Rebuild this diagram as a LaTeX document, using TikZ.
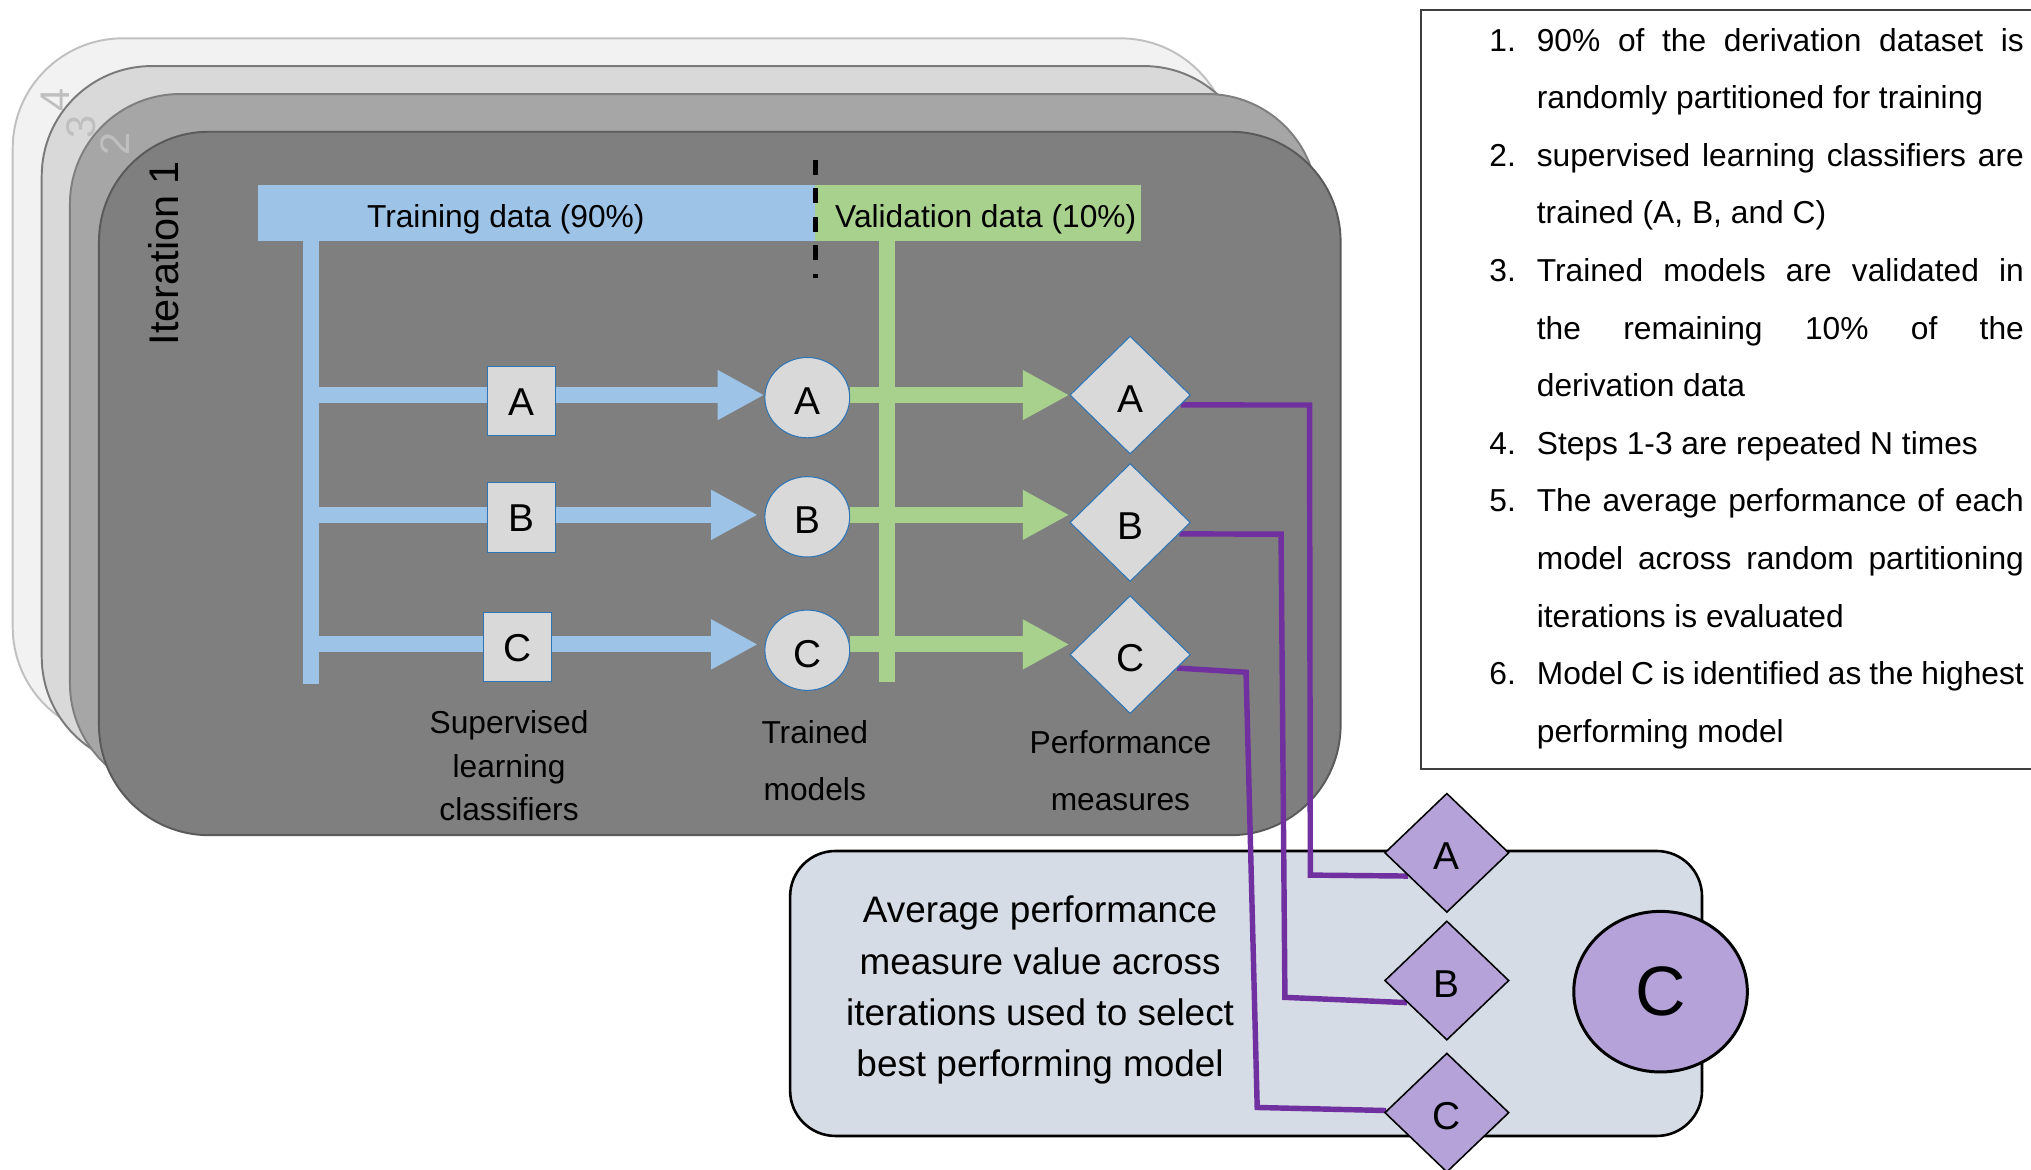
\documentclass[tikz,border=0pt]{standalone}
\usepackage{fontspec}
\setmainfont{Liberation Sans}
\usetikzlibrary{shapes.geometric,arrows.meta}
\pgfdeclarelayer{bg}
\pgfdeclarelayer{lines}
\pgfsetlayers{bg,lines,main}

\definecolor{stackD}{HTML}{F2F2F2}
\definecolor{stackDedge}{HTML}{C0C0C0}
\definecolor{stackC}{HTML}{D9D9D9}
\definecolor{stackCedge}{HTML}{7A7A7A}
\definecolor{stackB}{HTML}{A6A6A6}
\definecolor{stackBedge}{HTML}{7F7F7F}
\definecolor{stackA}{HTML}{7F7F7F}
\definecolor{stackAedge}{HTML}{5A5A5A}
\definecolor{digitgray}{HTML}{BFBFBF}
\definecolor{trainblue}{HTML}{9DC3E6}
\definecolor{validgreen}{HTML}{A9D18E}
\definecolor{shapegray}{HTML}{D9D9D9}
\definecolor{edgeblue}{HTML}{2E75B6}
\definecolor{lilac}{HTML}{B4A2D9}
\definecolor{linkpurple}{HTML}{7030A0}
\definecolor{avgfill}{HTML}{D6DCE5}
\definecolor{boxedge}{HTML}{3F3F3F}

\newcommand{\fsz}[2]{\fontsize{#1}{#2}\selectfont}

\begin{document}
\begin{tikzpicture}[x=0.5pt, y=-0.5pt,
  stack/.style={rounded corners=42.5pt, line width=0.75pt},
  digit/.style={rotate=90, text=digitgray, font=\fsz{16pt}{19pt}, inner sep=0pt},
  databar/.style={inner sep=0pt, draw=none, minimum height=21.5pt},
  feed/.style={line width=6.25pt},
  flow/.style={line width=6.25pt, -{Triangle[length=18pt,width=18pt]}},
  letter/.style={inner sep=0pt, font=\fsz{15pt}{18pt}, text height=13.2pt, text depth=0pt},
  model/.style={letter, fill=shapegray, draw=edgeblue, line width=0.4pt},
  clsbox/.style={model, rectangle, minimum width=26.25pt, minimum height=26.75pt, text height=10.8pt},
  trained/.style={model, ellipse, minimum width=32.75pt, minimum height=31pt},
  measure/.style={model, diamond, minimum width=46.5pt, minimum height=45.5pt},
  pick/.style={letter, diamond, fill=lilac, draw=black, line width=0.6pt,
    minimum width=48pt, minimum height=46pt},
  link/.style={draw=linkpurple, line width=2.1pt},
  colcap/.style={anchor=base, inner sep=0pt},
  divider/.style={black, line width=1.75pt, dash pattern=on 5.75pt off 5.2pt},
  avgbox/.style={fill=avgfill, draw=black, line width=1pt, rounded corners=17.5pt,
    minimum width=352pt, minimum height=110pt, inner sep=0pt},
]
\useasboundingbox (0,0) rectangle (1568,903);

% stacked iteration panels, back to front
\begin{pgfonlayer}{bg}
  \draw[stack, fill=stackD, draw=stackDedge] (9.8,29.6) rectangle (950,569);
  \node[digit] (it4) at (43,77) {4};
  \draw[stack, fill=stackC, draw=stackCedge] (32.2,51) rectangle (968,592);
  \node[digit] (it3) at (63,98.4) {3};
  \draw[stack, fill=stackB, draw=stackBedge] (54,72.6) rectangle (1017,612.6);
  \node[digit] (it2) at (89,111.5) {2};
  \draw[stack, fill=stackA, draw=stackAedge] (76.4,101.7) rectangle (1035,644.8);
  \node[avgbox] (avg) at (962,767) {};
\end{pgfonlayer}

\node[rotate=90, font=\fsz{16pt}{19pt}, inner sep=0pt] (it1) at (126,195.4) {Iteration 1};

% data split bars
\node[databar, fill=trainblue, minimum width=215.25pt] (train) at (414.25,164.5) {};
\node[databar, fill=validgreen, minimum width=125.75pt] (valid) at (755.25,164.5) {};
\node[colcap, font=\fsz{12.25pt}{15pt}] (traintxt) at (390.5,175.8) {Training data (90\%)};
\node[colcap, font=\fsz{12.25pt}{15pt}] (validtxt) at (761,175.8) {Validation data (10\%)};
\coordinate (divtop) at (629.5,123.6);
\coordinate (divbot) at (629.5,215);
\draw[divider] (divtop) -- (divbot);

% classifiers, trained models, performance measures
\node[clsbox] (clsA) at (402.25,309.75) {A};
\node[clsbox] (clsB) at (402.25,399.5) {B};
\node[clsbox] (clsC) at (399.25,499.75) {C};
\node[trained] (tmA) at (623.25,307) {A};
\node[trained] (tmB) at (623.25,399) {B};
\node[trained] (tmC) at (623.25,502) {C};
\node[measure] (pmA) at (872.5,305) {A};
\node[measure] (pmB) at (872.5,403.4) {B};
\node[measure] (pmC) at (872.5,505.4) {C};

\node[colcap] (capcls) at (393,566) {\parbox[t]{80pt}{\centering\fsz{12.25pt}{16.95pt}Supervised\\learning\\classifiers}};
\node[colcap] (captm) at (629,574) {\parbox[t]{60pt}{\centering\fsz{12.25pt}{21.85pt}Trained\\models}};
\node[colcap] (cappm) at (865,581.7) {\parbox[t]{90pt}{\centering\fsz{12.25pt}{21.9pt}Performance\\measures}};

% numbered description
\node[draw=boxedge, line width=0.6pt, fill=white, anchor=north west, inner sep=0pt,
  minimum width=240pt, minimum height=293pt] (steps) at (1096.5,7) {};
\node[anchor=base west, inner sep=0pt] (steptext) at (1149.5,39.4) {\parbox[t]{206.3pt}{\fsz{12.25pt}{22.24pt}%
\makebox[18.3pt][l]{1.}\makebox[188pt][s]{90\% of the derivation dataset is}\\
\hspace*{18.3pt}randomly partitioned for training\\
\makebox[18.3pt][l]{2.}\makebox[188pt][s]{supervised learning classifiers are}\\
\hspace*{18.3pt}trained (A, B, and C)\\
\makebox[18.3pt][l]{3.}\makebox[188pt][s]{Trained models are validated in}\\
\hspace*{18.3pt}\makebox[188pt][s]{the remaining 10\% of the}\\
\hspace*{18.3pt}derivation data\\
\makebox[18.3pt][l]{4.}Steps 1-3 are repeated N times\\
\makebox[18.3pt][l]{5.}\makebox[188pt][s]{The average performance of each}\\
\hspace*{18.3pt}\makebox[188pt][s]{model across random partitioning}\\
\hspace*{18.3pt}iterations is evaluated\\
\makebox[18.3pt][l]{6.}\makebox[188pt][s]{Model C is identified as the highest}\\
\hspace*{18.3pt}performing model}};

% selection across iterations
\node[anchor=base, inner sep=0pt] (avgtext) at (803,712.4) {\parbox[t]{170pt}{\centering\fsz{14.25pt}{19.8pt}Average performance\\measure value across\\iterations used to select\\best performing model}};
\node[pick] (pkA) at (1117,658.4) {A};
\node[pick] (pkB) at (1117,757) {B};
\node[pick] (pkC) at (1117,859) {C};
\node[ellipse, fill=lilac, draw=black, line width=1.15pt, inner sep=0pt,
  minimum width=67pt, minimum height=62pt, font=\fsz{27pt}{30pt}] (best) at (1282,765.6) {C};

% connectors
\coordinate (tfoot) at (240.4,528);
\coordinate (vfoot) at (685,526.5);
\coordinate (rowA) at (0,305);
\coordinate (rowB) at (0,397.5);
\coordinate (rowC) at (0,497.5);
\begin{pgfonlayer}{lines}
  \draw[feed, draw=trainblue] (train.center -| tfoot) -- (tfoot);
  \draw[flow, draw=trainblue] (tfoot |- rowA) -- (tmA.west |- rowA);
  \draw[flow, draw=trainblue, shorten >=2.5pt] (tfoot |- rowB) -- (tmB.west |- rowB);
  \draw[flow, draw=trainblue, shorten >=2.5pt] (tfoot |- rowC) -- (tmC.west |- rowC);
  \draw[feed, draw=validgreen] (valid.center -| vfoot) -- (vfoot);
  \draw[flow, draw=validgreen] (tmA.east |- rowA) -- (pmA.west |- rowA);
  \draw[flow, draw=validgreen] (tmB.east |- rowB) -- (pmB.west |- rowB);
  \draw[flow, draw=validgreen] (tmC.east |- rowC) -- (pmC.west |- rowC);
  \draw[link] (pmA.-11) -- (1011,312.7) -- (1011.6,675.6) -- (pkA.211);
  \draw[link] (pmB.-13.6) -- (989,412.4) -- (992,770) -- (pkB.209);
  \draw[link] (pmC.-16.8) -- (962,519) -- (970.6,855) -- (pkC.178);
\end{pgfonlayer}
\end{tikzpicture}
\end{document}
